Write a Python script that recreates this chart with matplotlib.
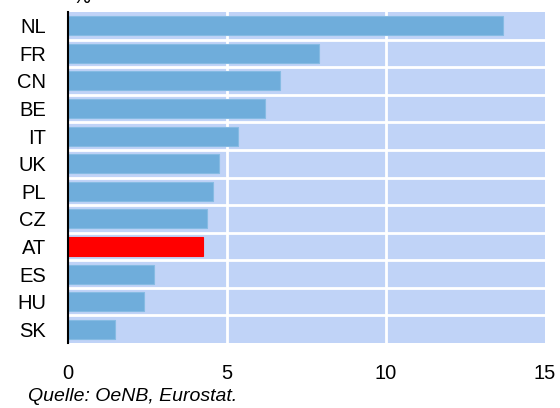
import matplotlib
matplotlib.use('Agg')
import matplotlib.pyplot as plt

# Daten
countries = ['NL', 'FR', 'CN', 'BE', 'IT', 'UK', 'PL', 'CZ', 'AT', 'ES', 'HU', 'SK']
values = [13.68, 7.89, 6.67, 6.19, 5.35, 4.75, 4.56, 4.36, 4.25, 2.71, 2.39, 1.48]
highlight = 'AT'
x_ticks = [0, 5, 10, 15]

band_color = '#C0D3F7'
bar_color = '#6FADDB'
hl_color = '#FF0000'

plt.rcParams['font.family'] = ['Liberation Sans', 'DejaVu Sans']

fig = plt.figure(figsize=(5.6, 4.08), dpi=100)
ax = fig.add_axes([68 / 560, 1 - 343 / 408, 477 / 560, 331 / 408])
ax.set_facecolor(band_color)

pos = list(range(len(countries)))
colors = [hl_color if c == highlight else bar_color for c in countries]
edges = [hl_color if c == highlight else '#86BBE3' for c in countries]
ax.barh(pos, values, height=0.69, color=colors, edgecolor=edges, linewidth=0.8, zorder=3)

# weisse Trennlinien zwischen den Zeilen und vertikales Gitter
for k in range(len(countries) - 1):
    ax.axhline(k + 0.5, color='white', lw=2, zorder=2)
for t in x_ticks[1:-1]:
    ax.axvline(t, color='white', lw=2, zorder=2)

ax.set_xlim(0, 15)
ax.set_ylim(len(countries) - 0.5, -0.5)
ax.set_yticks(pos)
ax.set_yticklabels(countries)
ax.set_xticks(x_ticks)
ax.tick_params(axis='y', length=0, pad=16, labelsize=14.5)
ax.tick_params(axis='x', length=0, pad=15, labelsize=14.5)

for s in ['top', 'right', 'bottom']:
    ax.spines[s].set_visible(False)
ax.spines['left'].set_color('black')
ax.spines['left'].set_linewidth(1.5)
ax.spines['left'].set_zorder(5)

fig.text(72 / 560, 1 - 3 / 408, '%', fontsize=14.5, va='baseline', ha='left')
fig.text(28 / 560, 1 - 401 / 408, 'Quelle: OeNB, Eurostat.', fontsize=14,
         style='italic', va='baseline', ha='left')

fig.savefig('out.png', dpi=100)
